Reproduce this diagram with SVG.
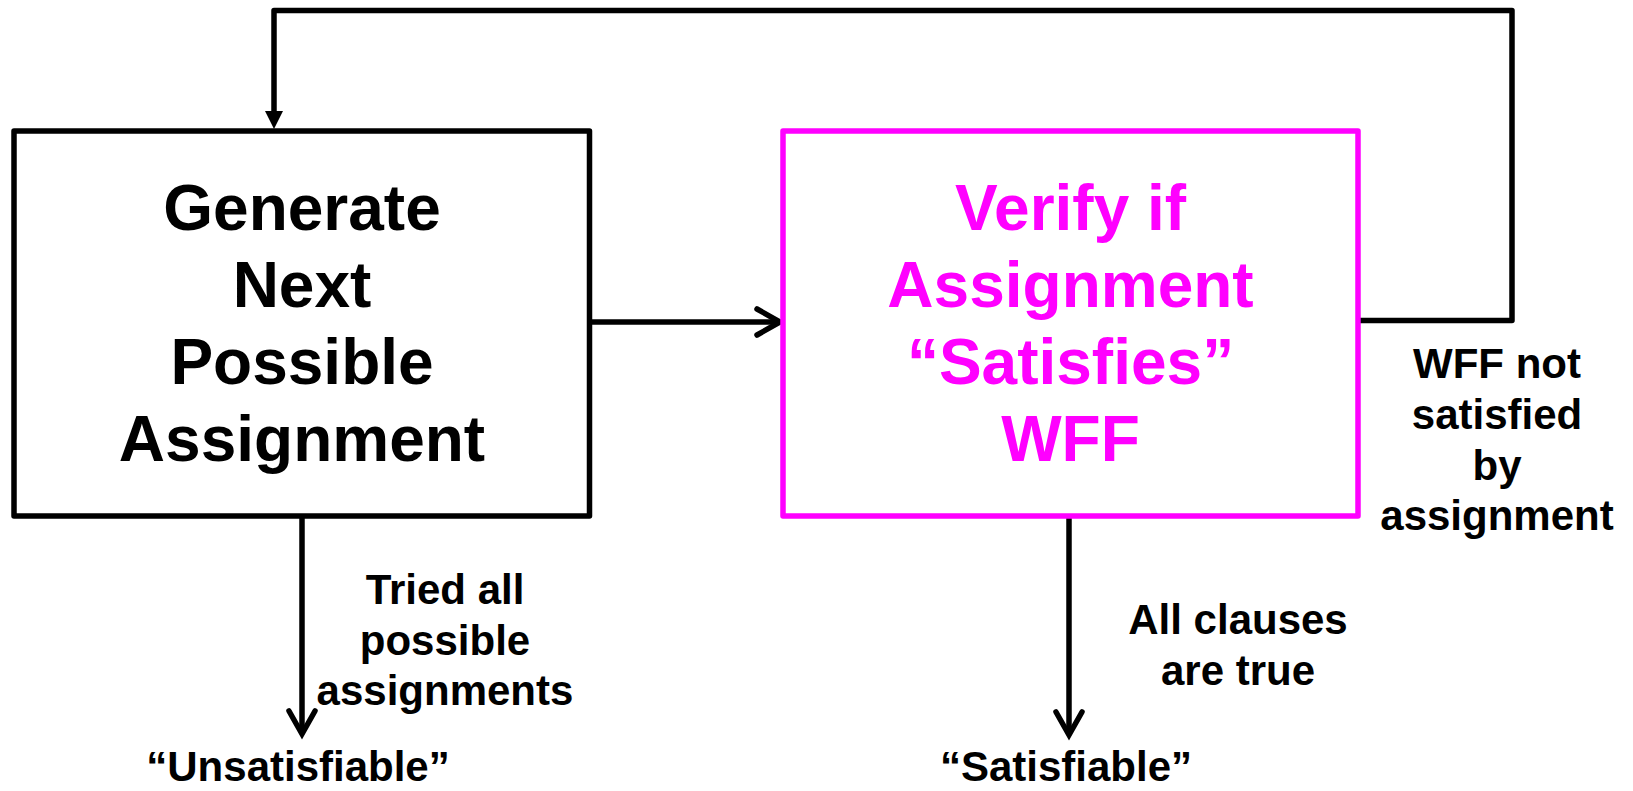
<svg xmlns="http://www.w3.org/2000/svg" width="1633" height="791" viewBox="0 0 1633 791">
<style>
.box{fill:#fff;stroke-width:5.5;stroke-linejoin:round}
.big{font-family:"Liberation Sans",Arial,sans-serif;font-weight:bold;font-size:64px;text-anchor:middle}
.lbl{font-family:"Liberation Sans",Arial,sans-serif;font-weight:bold;font-size:42px;text-anchor:middle;fill:#000}
.conn{fill:none;stroke:#000;stroke-width:5.5;stroke-linejoin:round}
.head{fill:none;stroke:#000;stroke-width:5.5;stroke-linecap:round;stroke-linejoin:miter}
</style>
<rect width="1633" height="791" fill="#fff"/>
<g id="connectors">
  <path class="conn" d="M1358,320.5 H1512 V10.5 H274 V115"/>
  <polygon points="265,111 283,111 274,129" fill="#000"/>
  <path class="conn" d="M589,322 H779"/>
  <path class="head" d="M757,309 L780,322 L757,335"/>
  <path class="conn" d="M302,516 V732"/>
  <path class="head" d="M289,711 L302,734 L315,711"/>
  <path class="conn" d="M1069,516 V733"/>
  <path class="head" d="M1056,712 L1069,735 L1082,712"/>
</g>
<g id="node-generate">
  <rect class="box" x="14" y="131" width="575.5" height="385" stroke="#000"/>
  <text class="big" fill="#000" x="302" y="230">Generate</text>
  <text class="big" fill="#000" x="302" y="307">Next</text>
  <text class="big" fill="#000" x="302" y="384">Possible</text>
  <text class="big" fill="#000" x="302" y="461">Assignment</text>
</g>
<g id="node-verify">
  <rect class="box" x="783" y="131" width="575" height="385" stroke="#ff00ff"/>
  <text class="big" fill="#ff00ff" x="1070.5" y="230">Verify if</text>
  <text class="big" fill="#ff00ff" x="1070.5" y="307">Assignment</text>
  <text class="big" fill="#ff00ff" x="1070.5" y="384">“Satisfies”</text>
  <text class="big" fill="#ff00ff" x="1070.5" y="461">WFF</text>
</g>
<g id="label-not-satisfied">
  <text class="lbl" x="1497" y="378">WFF not</text>
  <text class="lbl" x="1497" y="429">satisfied</text>
  <text class="lbl" x="1497" y="480">by</text>
  <text class="lbl" x="1497" y="530">assignment</text>
</g>
<g id="label-tried">
  <text class="lbl" x="445" y="604">Tried all</text>
  <text class="lbl" x="445" y="655">possible</text>
  <text class="lbl" x="445" y="705">assignments</text>
</g>
<g id="label-all-true">
  <text class="lbl" x="1238" y="634">All clauses</text>
  <text class="lbl" x="1238" y="685">are true</text>
</g>
<g id="node-unsat">
  <text class="lbl" x="298" y="781">“Unsatisfiable”</text>
</g>
<g id="node-sat">
  <text class="lbl" x="1066" y="781">“Satisfiable”</text>
</g>
</svg>
